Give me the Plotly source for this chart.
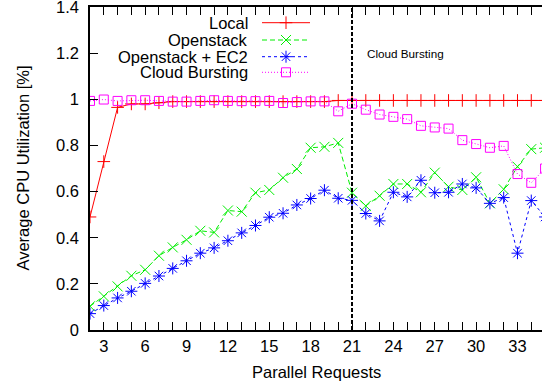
import plotly.graph_objects as go

# ---------------- data ----------------
requests = list(range(2, 36))
local = [0.49, 0.73, 0.965, 0.98, 0.98, 0.985, 0.99, 0.99, 0.99, 0.99,
         0.99, 0.99, 0.99, 0.99, 0.99, 0.99, 0.99, 0.99, 0.995, 0.995,
         0.995, 0.995, 0.995, 0.995, 0.995, 0.995, 0.995, 0.995, 0.995, 0.995,
         0.995, 0.995, 0.995, 0.995]
openstack = [0.103, 0.146, 0.189, 0.235, 0.261, 0.322, 0.358, 0.391, 0.43, 0.423,
             0.518, 0.513, 0.595, 0.607, 0.66, 0.698, 0.79, 0.794, 0.811, 0.595,
             0.538, 0.582, 0.633, 0.633, 0.597, 0.682, 0.621, 0.607, 0.662, 0.549,
             0.61, 0.708, 0.784, 0.79]
openstack_ec2 = [0.071, 0.106, 0.139, 0.168, 0.202, 0.234, 0.267, 0.30, 0.333, 0.356,
                 0.387, 0.421, 0.453, 0.489, 0.506, 0.542, 0.57, 0.606, 0.571, 0.562,
                 0.505, 0.473, 0.597, 0.577, 0.649, 0.595, 0.597, 0.633, 0.616, 0.549,
                 0.574, 0.333, 0.561, 0.49]
cloud_bursting = [0.993, 0.999, 0.993, 0.996, 0.996, 0.993, 0.99, 0.99, 0.993, 0.996,
                  0.993, 0.992, 0.992, 0.993, 0.984, 0.988, 0.991, 0.991, 0.948, 0.981,
                  0.955, 0.934, 0.924, 0.914, 0.885, 0.878, 0.873, 0.823, 0.806, 0.79,
                  0.798, 0.676, 0.638, 0.70]
series_names = ["Local", "Openstack", "Openstack + EC2", "Cloud Bursting"]
burst_start = 21
burst_label = "Cloud Bursting"
x_title = "Parallel Requests"
y_title = "Average CPU Utilization [%]"
x_tick_labels = [3, 6, 9, 12, 15, 18, 21, 24, 27, 30, 33]
y_tick_values = [0, 0.2, 0.4, 0.6, 0.8, 1.0, 1.2, 1.4]

# ---------------- styles ----------------
FONT = "Liberation Sans, Arial, Helvetica, sans-serif"
styles = [
    dict(color="#ff0000", dash="solid", symbol="cross-thin-open", size=9),
    dict(color="#00ee00", dash="5px,3px", symbol="x-thin-open", size=10),
    dict(color="#0000ff", dash="3px,3px", symbol="asterisk-open", size=10),
    dict(color="#ff00ff", dash="1px,2px", symbol="square-open", size=9),
]
all_series = [local, openstack, openstack_ec2, cloud_bursting]

fig = go.Figure()
for name, vals, st in zip(series_names, all_series, styles):
    fig.add_trace(go.Scatter(
        x=requests, y=vals, mode="lines+markers", name=name, showlegend=False,
        line=dict(color=st["color"], width=1, dash=st["dash"]),
        marker=dict(symbol=st["symbol"], size=st["size"],
                    line=dict(color=st["color"], width=1), color=st["color"]),
    ))

# gnuplot-style key: text on the left, sample on the right (overlay pixel axes)
PW, PH = 452, 323
key_rows = [15.7, 33.0, 49.7, 65.3]
for name, st, ky in zip(series_names, styles, key_rows):
    fig.add_trace(go.Scatter(
        x=[172, 220], y=[ky, ky], xaxis="x2", yaxis="y2", mode="lines",
        showlegend=False, hoverinfo="skip",
        line=dict(color=st["color"], width=1, dash=st["dash"])))
    fig.add_trace(go.Scatter(
        x=[196], y=[ky], xaxis="x2", yaxis="y2", mode="markers",
        showlegend=False, hoverinfo="skip",
        marker=dict(symbol=st["symbol"], size=st["size"], color=st["color"],
                    line=dict(color=st["color"], width=1))))
    fig.add_annotation(x=160, y=ky, xref="x2", yref="y2", text=name,
                       showarrow=False, xanchor="right", yanchor="middle",
                       font=dict(family=FONT, size=16.5, color="black"))

fig.add_annotation(x=315, y=46, xref="x2", yref="y2", text=burst_label,
                   showarrow=False, xanchor="center", yanchor="middle",
                   font=dict(family=FONT, size=11.7, color="black"))

# axis titles placed like the gnuplot original
fig.add_annotation(x=0.5, y=-0.13, xref="paper", yref="paper", text=x_title,
                   showarrow=False, xanchor="center", yanchor="middle",
                   font=dict(family=FONT, size=16.5, color="black"))
fig.add_annotation(x=-0.1504, y=0.5, xref="paper", yref="paper", text=y_title,
                   textangle=-90, showarrow=False, xanchor="center",
                   yanchor="middle", font=dict(family=FONT, size=16.5, color="black"))

fig.add_shape(type="line", x0=burst_start, x1=burst_start, y0=0, y1=1.4,
              xref="x", yref="y", line=dict(color="black", width=2, dash="4px,2px"))

fig.update_layout(
    width=542, height=385, template="none",
    paper_bgcolor="white", plot_bgcolor="white",
    margin=dict(l=90, r=0, t=7, b=55, pad=0),
    font=dict(family=FONT, size=16.5, color="black"),
    xaxis=dict(
        range=[2, 2 + PW / 13.79], tickmode="array", tickvals=x_tick_labels,
        ticks="inside", ticklen=8, tickwidth=1, tickcolor="black",
        minor=dict(dtick=1, tick0=2, ticks="inside", ticklen=8, tickwidth=1,
                   tickcolor="black", showgrid=False),
        showline=True, linecolor="black", linewidth=1.5, mirror="ticks",
        showgrid=False, zeroline=False, automargin=False,
        ticklabeloverflow="allow",
        tickfont=dict(family=FONT, size=16.5),
    ),
    yaxis=dict(
        range=[0, 1.4001], tickmode="array", tickvals=y_tick_values,
        ticks="inside", ticklen=8, tickwidth=1, tickcolor="black",
        showline=True, linecolor="black", linewidth=1.5, mirror=False,
        showgrid=False, zeroline=False, ticklabelstandoff=6, automargin=False,
        ticklabeloverflow="allow",
        tickfont=dict(family=FONT, size=16.5),
    ),
    yaxis3=dict(
        range=[0, 1.4001], overlaying="y", side="right", anchor="x",
        tickmode="array", tickvals=y_tick_values, automargin=False,
        ticks="inside", ticklen=4, tickwidth=1, tickcolor="black",
        showticklabels=False, showline=False, showgrid=False, zeroline=False,
    ),
    xaxis2=dict(range=[0, PW], overlaying="x", anchor="y2", visible=False,
                fixedrange=True, automargin=False),
    yaxis2=dict(range=[PH, 0], overlaying="y", anchor="x2", visible=False,
                fixedrange=True, automargin=False),
)

fig.write_html(
    "out.html",
    config={"displayModeBar": False},
    post_script="document.body.style.margin='0';document.body.style.overflow='hidden';",
)
